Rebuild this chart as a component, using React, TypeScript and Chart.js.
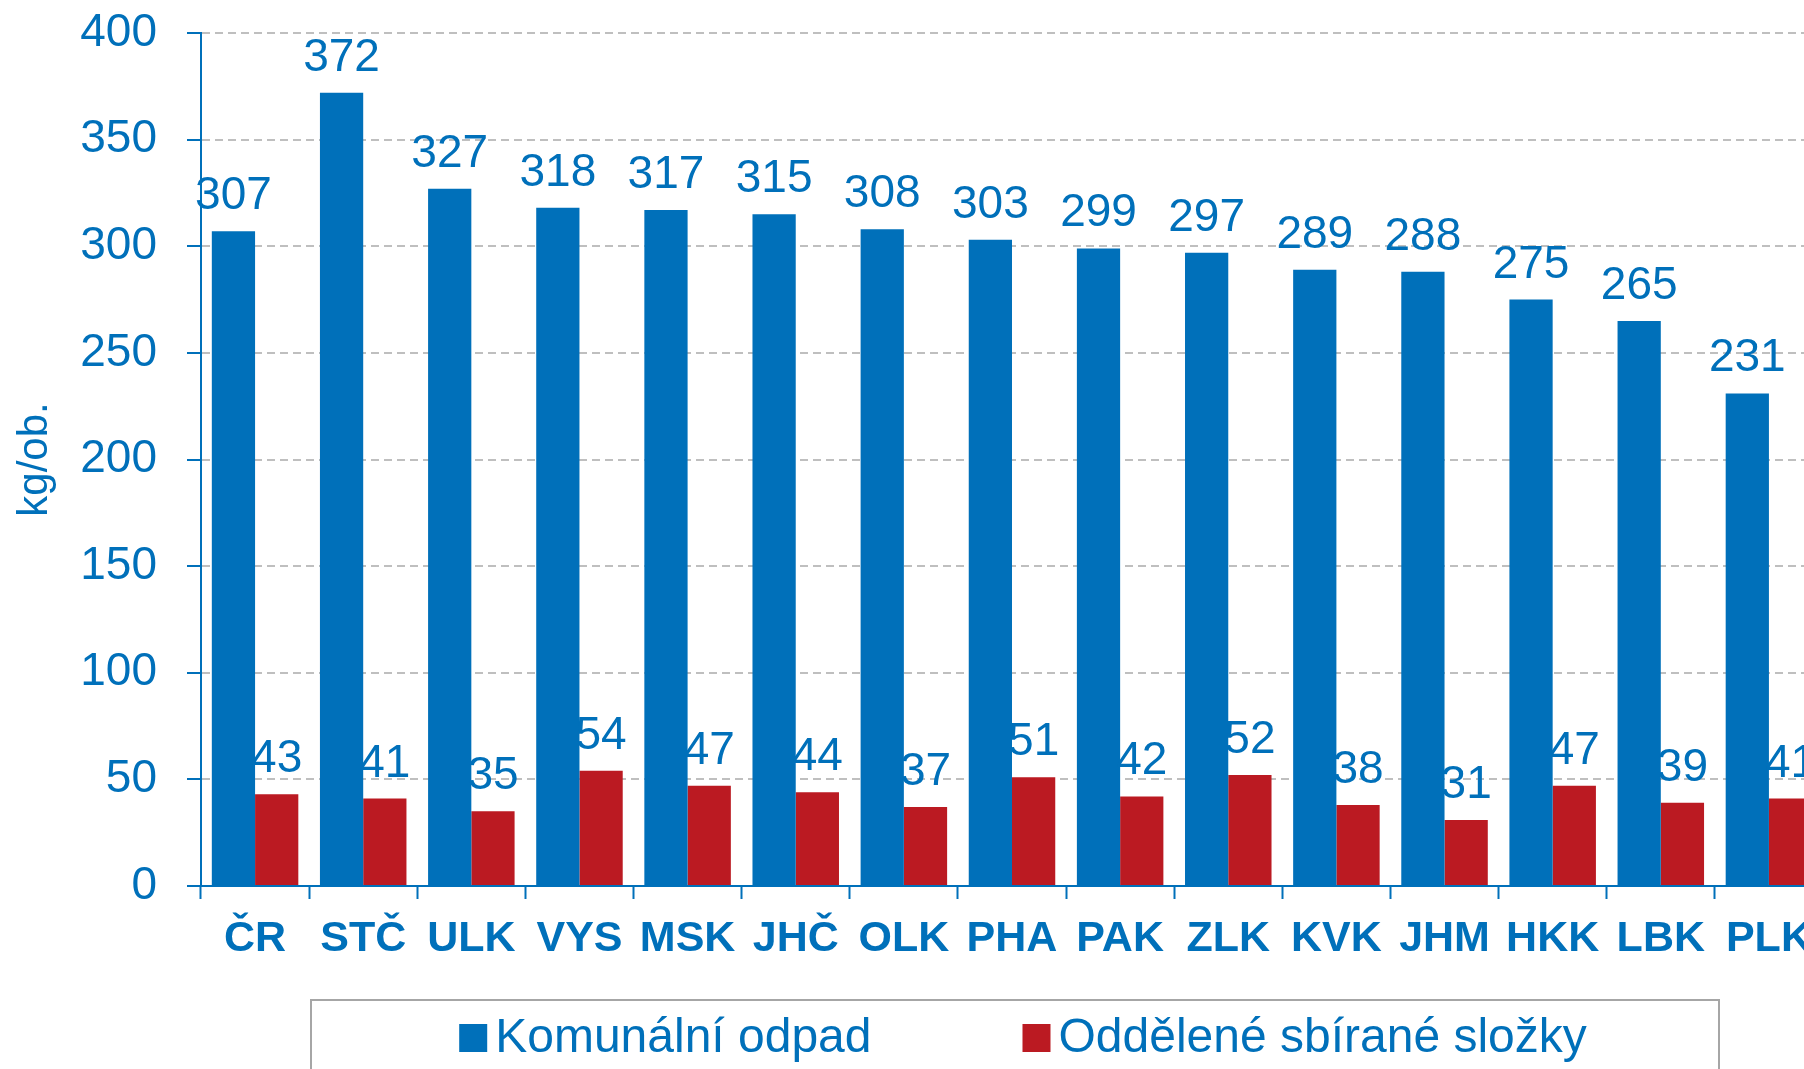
import React, { useEffect, useRef } from 'react';
import { Chart, registerables } from 'chart.js';

Chart.register(...registerables);

const categories = ['ČR', 'STČ', 'ULK', 'VYS', 'MSK', 'JHČ', 'OLK', 'PHA', 'PAK', 'ZLK', 'KVK', 'JHM', 'HKK', 'LBK', 'PLK'];
const komunalniOdpad = [307, 372, 327, 318, 317, 315, 308, 303, 299, 297, 289, 288, 275, 265, 231];
const oddeleneSlozky = [43, 41, 35, 54, 47, 44, 37, 51, 42, 52, 38, 31, 47, 39, 41];
const seriesLabels = ['Komunální odpad', 'Oddělené sbírané složky'];
const yAxisTitle = 'kg/ob.';
const yMin = 0;
const yMax = 400;
const yStep = 50;

const BLUE = '#0070BA';
const RED = '#BB1A22';
const FONT = "'Liberation Sans', Arial, sans-serif";

const valueLabelsPlugin = {
  id: 'valueLabels',
  afterDatasetsDraw(chart: any) {
    const ctx = chart.ctx;
    ctx.save();
    ctx.font = `46px ${FONT}`;
    ctx.fillStyle = BLUE;
    ctx.textAlign = 'center';
    ctx.textBaseline = 'alphabetic';
    chart.data.datasets.forEach((ds: any, di: number) => {
      const meta = chart.getDatasetMeta(di);
      meta.data.forEach((el: any, i: number) => {
        ctx.fillText(String(ds.data[i]), el.x, el.y - 22);
      });
    });
    ctx.restore();
  },
};

const framedLegendPlugin = {
  id: 'framedLegend',
  afterDraw(chart: any) {
    const ctx = chart.ctx;
    ctx.save();
    ctx.strokeStyle = '#A6A6A6';
    ctx.lineWidth = 2;
    ctx.strokeRect(311, 1000, 1408, 120);
    ctx.font = `48px ${FONT}`;
    ctx.textBaseline = 'middle';
    ctx.textAlign = 'left';
    const box = 28;
    const gap = 8;
    const itemGap = 151;
    const ds = chart.data.datasets;
    const widths = ds.map((d: any) => ctx.measureText(d.label).width);
    let total = 0;
    widths.forEach((w: number, i: number) => {
      total += box + gap + w + (i < widths.length - 1 ? itemGap : 0);
    });
    let x = 1023 - total / 2;
    const cy = 1038;
    ds.forEach((d: any, i: number) => {
      ctx.fillStyle = d.backgroundColor;
      ctx.fillRect(x, cy - box / 2, box, box);
      ctx.fillStyle = BLUE;
      ctx.fillText(d.label, x + box + gap, cy + 1);
      x += box + gap + widths[i] + itemGap;
    });
    ctx.restore();
  },
};

export default function App() {
  const canvasRef = useRef<HTMLCanvasElement | null>(null);

  useEffect(() => {
    const canvas = canvasRef.current;
    if (!canvas) return;
    const chart = new Chart(canvas, {
      type: 'bar',
      data: {
        labels: categories,
        datasets: [
          {
            label: seriesLabels[0],
            data: komunalniOdpad,
            backgroundColor: BLUE,
            borderWidth: 0,
            categoryPercentage: 0.8,
            barPercentage: 1.0,
          },
          {
            label: seriesLabels[1],
            data: oddeleneSlozky,
            backgroundColor: RED,
            borderWidth: 0,
            categoryPercentage: 0.8,
            barPercentage: 1.0,
          },
        ],
      },
      options: {
        responsive: false,
        maintainAspectRatio: false,
        animation: false,
        layout: { autoPadding: false, padding: { top: 33, right: 7, left: 0, bottom: 0 } },
        plugins: {
          legend: { display: false },
          tooltip: { enabled: false },
          title: { display: false },
        },
        scales: {
          x: {
            offset: true,
            grid: {
              offset: true,
              drawOnChartArea: false,
              drawTicks: true,
              tickLength: 13,
              tickColor: BLUE,
              tickWidth: 2,
            },
            border: { display: true, color: BLUE, width: 2 },
            ticks: {
              color: BLUE,
              padding: 14,
              maxRotation: 0,
              autoSkip: false,
              font: { family: FONT, size: 43, weight: 'bold' },
            },
            afterFit(scale: any) {
              scale.height = 183;
              scale.paddingLeft = 0;
              scale.paddingRight = 0;
            },
          },
          y: {
            min: yMin,
            max: yMax,
            ticks: {
              stepSize: yStep,
              color: BLUE,
              padding: 30,
              font: { family: FONT, size: 46 },
            },
            grid: {
              color: '#BFBFBF',
              lineWidth: 2,
              drawTicks: true,
              tickLength: 14,
              tickColor: BLUE,
              tickWidth: 2,
              tickBorderDash: [],
            },
            border: { display: true, color: BLUE, width: 2, dash: [8, 5] },
            title: {
              display: true,
              text: yAxisTitle,
              color: BLUE,
              font: { family: FONT, size: 42 },
              padding: { top: 10, bottom: 0 },
            },
            afterFit(scale: any) {
              scale.width = 201;
              scale.paddingTop = 0;
              scale.paddingBottom = 0;
            },
          },
        },
      },
      plugins: [valueLabelsPlugin, framedLegendPlugin],
    });
    return () => {
      chart.destroy();
    };
  }, []);

  return (
    <div
      style={{
        position: 'fixed',
        left: 0,
        top: 0,
        width: 1804,
        height: 1069,
        overflow: 'hidden',
        background: '#ffffff',
      }}
    >
      <canvas ref={canvasRef} width={1830} height={1069} style={{ width: 1830, height: 1069, display: 'block' }} />
    </div>
  );
}
